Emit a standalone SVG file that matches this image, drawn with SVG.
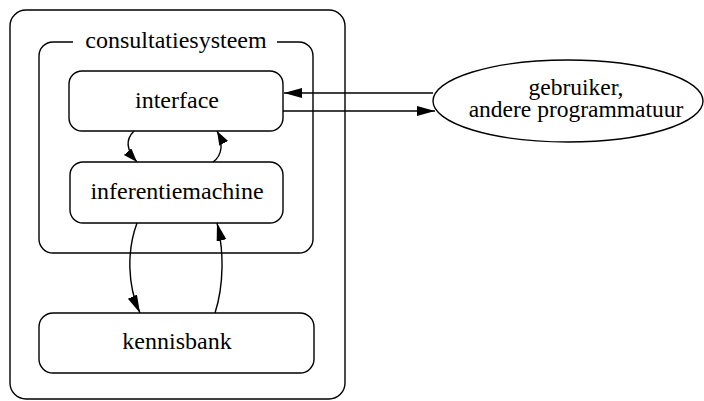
<svg xmlns="http://www.w3.org/2000/svg" width="704" height="401" viewBox="0 0 704 401">
<defs>
<style>
.box{fill:none;stroke:#000;stroke-width:1.4}
.lbl{font-family:"Liberation Serif","Times New Roman",serif;font-size:24px;fill:#000;text-anchor:middle}
.sm{font-size:23.5px}
.con{fill:none;stroke:#000;stroke-width:1.4}
</style>
<marker id="ah" markerUnits="userSpaceOnUse" markerWidth="20" markerHeight="12" refX="18" refY="5" orient="auto">
<path d="M0,0 L18,5 L0,10 z" fill="#000"/>
</marker>
<marker id="ahs" markerUnits="userSpaceOnUse" markerWidth="16" markerHeight="12" refX="14" refY="5" orient="auto">
<path d="M0,0 L14,5 L0,10 z" fill="#000"/>
</marker>
</defs>
<rect width="704" height="401" fill="#fff"/>
<g id="outer">
<rect class="box" x="10" y="10" width="335" height="389" rx="16"/>
</g>
<g id="consultatiesysteem">
<path class="box" d="M73,42 H53 A14,14 0 0 0 39,56 V239 A14,14 0 0 0 53,253 H299 A14,14 0 0 0 313,239 V56 A14,14 0 0 0 299,42 H277"/>
<text class="lbl" x="176" y="48">consultatiesysteem</text>
</g>
<g id="interface">
<rect class="box" x="69" y="71" width="214" height="60" rx="13"/>
<text class="lbl" x="177" y="108">interface</text>
</g>
<g id="inferentiemachine">
<rect class="box" x="70" y="162" width="213" height="61" rx="13"/>
<text class="lbl" x="177" y="199">inferentiemachine</text>
</g>
<g id="kennisbank">
<rect class="box" x="39" y="313" width="275" height="60" rx="14"/>
<text class="lbl" x="177" y="349">kennisbank</text>
</g>
<g id="gebruiker">
<ellipse class="box" cx="568" cy="101" rx="135" ry="41"/>
<text class="lbl sm" x="576" y="95">gebruiker,</text>
<text class="lbl sm" x="576" y="117">andere programmatuur</text>
</g>
<g id="connectors">
<path class="con" d="M433,93 H284" marker-end="url(#ah)"/>
<path class="con" d="M283,111 H435" marker-end="url(#ah)"/>
<path class="con" d="M134,131 C125,140 127,151 137,162" marker-end="url(#ahs)"/>
<path class="con" d="M213,162 C223,155 223,142 217,131" marker-end="url(#ahs)"/>
<path class="con" d="M137,223 C127,250 127,285 140,313" marker-end="url(#ah)"/>
<path class="con" d="M215,313 C224,285 224,250 217,223" marker-end="url(#ah)"/>
</g>
</svg>
